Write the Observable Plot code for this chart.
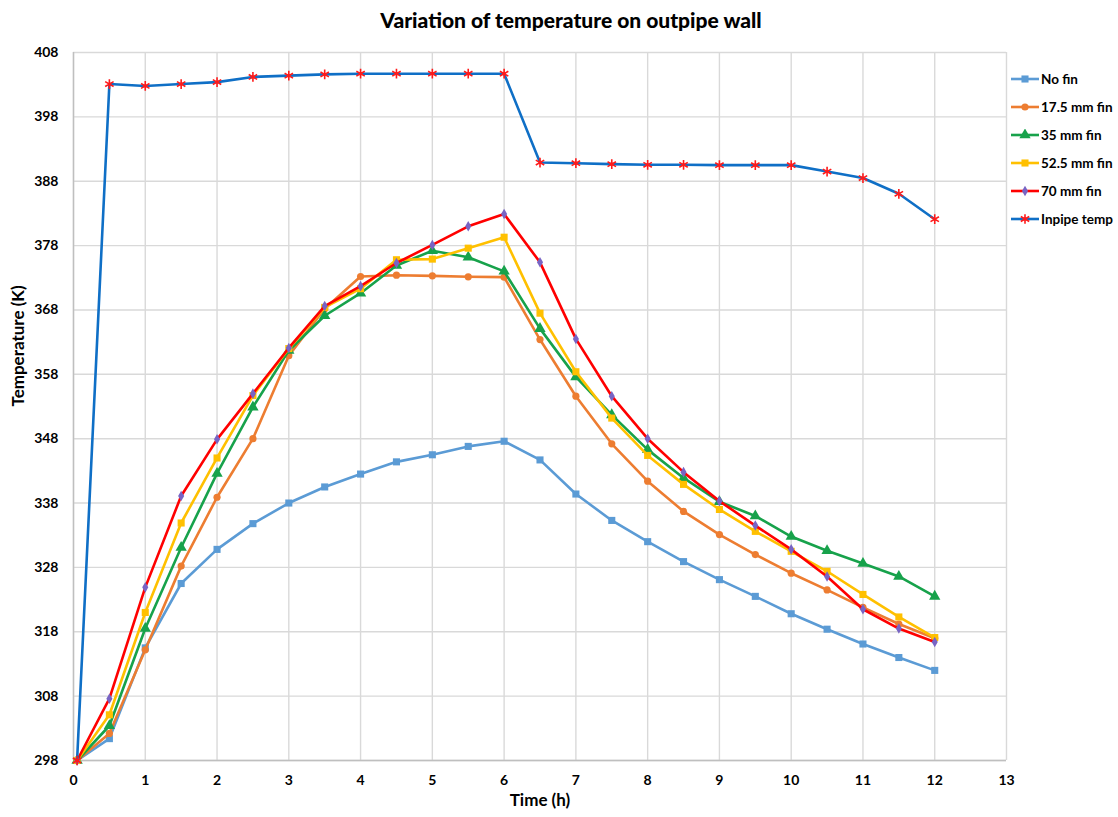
<!DOCTYPE html>
<html>
<head>
<meta charset="utf-8">
<script src="https://cdn.jsdelivr.net/npm/d3@7"></script>
<script src="https://cdn.jsdelivr.net/npm/@observablehq/plot@0.6"></script>
<style>
  html, body { margin: 0; padding: 0; background: #fff; overflow: hidden; }
  #wrap { position: relative; width: 1118px; height: 817px; font-family: Lato, "Liberation Sans", sans-serif; }
  #title { position: absolute; left: 0; width: 1142px; top: 7px; text-align: center; font-weight: 900; font-size: 21px; line-height: 26px; color: #000; }
  #legend { position: absolute; left: 1010px; top: 65px; }
  .item { display: flex; align-items: center; height: 28px; font-weight: bold; font-size: 13.5px; color: #000; white-space: nowrap; }
  .item svg { margin-right: 1px; }
</style>
</head>
<body>
<div id="wrap">
  <div id="chart"></div>
  <div id="title">Variation of temperature on outpipe wall</div>
  <div id="legend"></div>
</div>
<script>
// ---- data ----
const hours = [0.05, 0.5, 1, 1.5, 2, 2.5, 3, 3.5, 4, 4.5, 5, 5.5, 6, 6.5, 7, 7.5, 8, 8.5, 9, 9.5, 10, 10.5, 11, 11.5, 12];
const noFin = [298, 301.4, 315.5, 325.5, 330.8, 334.8, 338.0, 340.5, 342.5, 344.4, 345.5, 346.8, 347.6, 344.7, 339.4, 335.3, 332.0, 328.9, 326.1, 323.5, 320.8, 318.4, 316.1, 314.0, 312.0];
const fin175 = [298, 302.2, 315.2, 328.2, 338.9, 348.0, 360.9, 368.2, 373.2, 373.4, 373.3, 373.15, 373.1, 363.4, 354.6, 347.2, 341.4, 336.7, 333.1, 330.0, 327.1, 324.5, 321.8, 319.2, 317.0];
const fin35 = [298, 303.4, 318.5, 331.1, 342.6, 352.9, 361.7, 367.1, 370.6, 374.9, 377.2, 376.2, 374.0, 365.1, 357.6, 351.7, 346.3, 341.9, 338.2, 336.0, 332.8, 330.6, 328.6, 326.6, 323.5];
const fin525 = [298, 305.1, 321.0, 334.9, 345.0, 354.7, 362.0, 368.4, 371.3, 375.8, 375.9, 377.6, 379.3, 367.5, 358.4, 351.2, 345.4, 340.9, 337.0, 333.6, 330.5, 327.4, 323.8, 320.3, 317.1];
const fin70 = [298, 307.6, 324.9, 339.1, 347.9, 355.0, 362.1, 368.6, 371.7, 375.3, 378.1, 381.0, 382.9, 375.4, 363.5, 354.6, 348.0, 342.8, 338.3, 334.5, 330.8, 326.6, 321.5, 318.5, 316.4];
const inpipe = [298, 403.1, 402.8, 403.1, 403.4, 404.2, 404.4, 404.6, 404.7, 404.7, 404.7, 404.7, 404.7, 390.9, 390.8, 390.65, 390.55, 390.55, 390.5, 390.5, 390.5, 389.5, 388.5, 386.05, 382.1];

const seriesNames = ["No fin", "17.5 mm fin", "35 mm fin", "52.5 mm fin", "70 mm fin", "Inpipe temp"];
const seriesValues = [noFin, fin175, fin35, fin525, fin70, inpipe];
const xTicks = [0, 1, 2, 3, 4, 5, 6, 7, 8, 9, 10, 11, 12, 13];
const yTicks = [298, 308, 318, 328, 338, 348, 358, 368, 378, 388, 398, 408];

// ---- styles ----
const styles = [
  {line: "#5b9bd5", symbol: "square", fill: "#5b9bd5", stroke: "none", r: 4},
  {line: "#ed7d31", symbol: "circle", fill: "#ed7d31", stroke: "none", r: 3.6},
  {line: "#17a24b", symbol: "triangle", fill: "#17a24b", stroke: "none", r: 4.2},
  {line: "#ffc000", symbol: "square", fill: "#ffc000", stroke: "none", r: 4},
  {line: "#ff0000", symbol: "diamond", fill: "#7864c4", stroke: "none", r: 3.2},
  {line: "#0f6fc6", symbol: "asterisk", fill: "none", stroke: "#ff1a1a", r: 4.6}
];

const tables = seriesValues.map((vals, i) => hours.map((h, j) => ({time: h, temp: vals[j], series: seriesNames[i]})));

const marks = [
  Plot.gridX(xTicks, {stroke: "#d9d9d9", strokeOpacity: 1, strokeWidth: 1.4}),
  Plot.gridY(yTicks, {stroke: "#d9d9d9", strokeOpacity: 1, strokeWidth: 1.4}),
  Plot.ruleX([0], {stroke: "#bfbfbf", strokeWidth: 1.4}),
  Plot.ruleY([298], {stroke: "#bfbfbf", strokeWidth: 1.4}),
  Plot.axisX(xTicks, {tickSize: 0, tickPadding: 15, fontWeight: "bold", fontSize: 14, label: null}),
  Plot.axisY(yTicks, {tickSize: 0, tickPadding: 15, fontWeight: "bold", fontSize: 14, label: null}),
  Plot.text(["Time (h)"], {frameAnchor: "bottom", dy: 45, fontWeight: "bold", fontSize: 17}),
  Plot.text(["Temperature (K)"], {frameAnchor: "left", dx: -55, rotate: -90, fontWeight: "bold", fontSize: 17})
];

tables.forEach((t, i) => {
  const s = styles[i];
  marks.push(Plot.line(t, {x: "time", y: "temp", stroke: s.line, strokeWidth: 2.6, curve: "linear"}));
  marks.push(Plot.dot(t, {x: "time", y: "temp", symbol: () => s.symbol, r: s.r, fill: s.fill, stroke: s.stroke, strokeWidth: s.stroke === "none" ? 0 : 1.6}));
});

const chart = Plot.plot({
  width: 1118,
  height: 817,
  marginTop: 52,
  marginLeft: 73,
  marginRight: 112,
  marginBottom: 57,
  x: {domain: [0, 13], axis: null},
  y: {domain: [298, 408], axis: null},
  symbol: {type: "identity"},
  style: {fontFamily: "Lato, 'Liberation Sans', sans-serif", color: "#000", background: "#fff"},
  marks
});
document.getElementById("chart").appendChild(chart);

// ---- legend ----
const legend = d3.select("#legend");
seriesNames.forEach((name, i) => {
  const s = styles[i];
  const item = legend.append("div").attr("class", "item");
  const svg = item.append("svg").attr("width", 30).attr("height", 12);
  svg.append("line").attr("x1", 1).attr("x2", 29).attr("y1", 6).attr("y2", 6)
    .attr("stroke", s.line).attr("stroke-width", 2.6);
  const symMap = {square: d3.symbolSquare, circle: d3.symbolCircle, triangle: d3.symbolTriangle, diamond: d3.symbolDiamond, asterisk: d3.symbolAsterisk};
  svg.append("path").attr("transform", "translate(15,6)")
    .attr("d", d3.symbol(symMap[s.symbol], Math.PI * s.r * s.r)())
    .attr("fill", s.fill).attr("stroke", s.stroke === "none" ? null : s.stroke)
    .attr("stroke-width", s.stroke === "none" ? null : 1.6);
  item.append("span").text(name);
});
</script>
</body>
</html>
